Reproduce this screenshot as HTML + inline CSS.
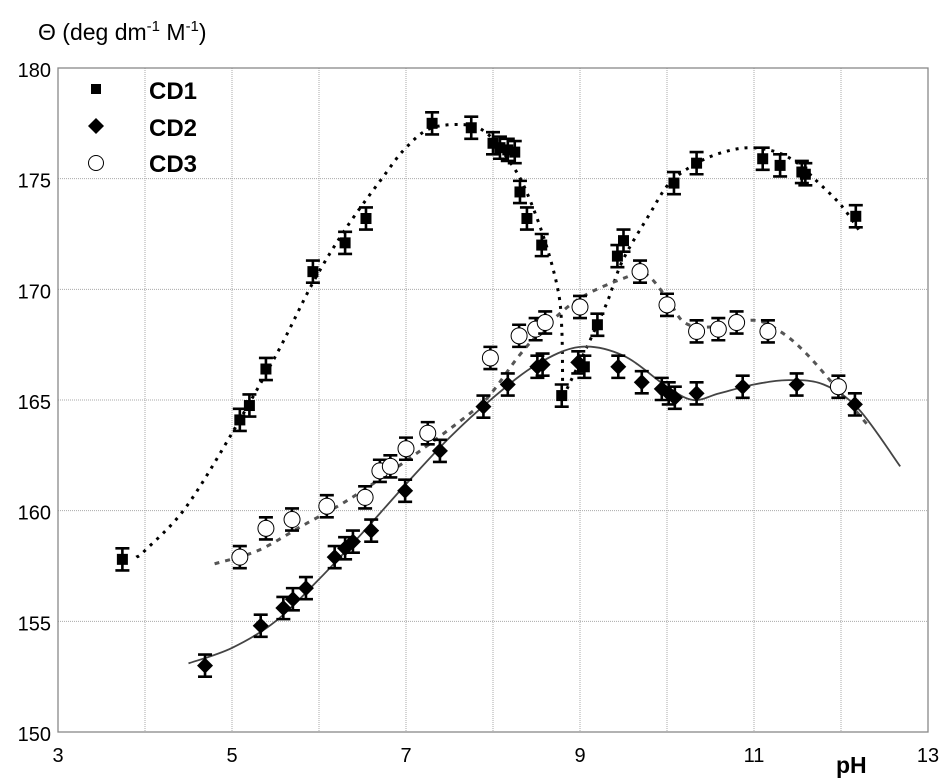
<!DOCTYPE html>
<html><head><meta charset="utf-8"><style>
body{margin:0;background:#fff;}
svg{display:block;font-family:"Liberation Sans",Arial,sans-serif;}
</style></head><body>
<svg id="chart" width="945" height="784" viewBox="0 0 945 784">
<text x="38" y="40" font-size="23">Θ (deg dm<tspan font-size="15" dy="-9">-1</tspan><tspan dy="9"> M</tspan><tspan font-size="15" dy="-9">-1</tspan><tspan dy="9">)</tspan></text>
<text x="836" y="773" font-size="23" font-weight="bold">pH</text>
<g id="grid"></g><g id="axes"></g><g id="fits"></g><g id="marks"></g>
<g>
<rect x="91" y="84" width="10" height="10" fill="#000"/>
<text x="149" y="99" font-size="24" font-weight="bold">CD1</text>
<path d="M96,118 L104,126 L96,134 L88,126Z" fill="#000"/>
<text x="149" y="136" font-size="24" font-weight="bold">CD2</text>
<circle cx="96" cy="163" r="7.5" fill="#fff" stroke="#000" stroke-width="1"/>
<text x="149" y="172" font-size="24" font-weight="bold">CD3</text>
</g>
</svg>
<script>
const xTicks=[3,5,7,9,11,13];
const yTicks=[150,155,160,165,170,175,180];
const cd1X=[3.74,5.09,5.20,5.39,5.93,6.30,6.54,7.30,7.75,8.00,8.08,8.17,8.25,8.31,8.39,8.56,8.79,9.05,9.20,9.43,9.50,10.08,10.34,11.10,11.30,11.55,11.59,12.17];
const cd1Y=[157.8,164.1,164.75,166.4,170.8,172.1,173.2,177.5,177.3,176.6,176.4,176.3,176.2,174.4,173.2,172.0,165.2,166.5,168.4,171.5,172.2,174.8,175.7,175.9,175.6,175.3,175.2,173.3];
const cd2X=[4.69,5.33,5.59,5.70,5.85,6.18,6.30,6.39,6.60,6.99,7.39,7.89,8.17,8.51,8.57,8.98,9.44,9.71,9.94,10.02,10.09,10.34,10.87,11.49,12.16];
const cd2Y=[153.0,154.8,155.6,156.0,156.5,157.9,158.3,158.6,159.1,160.9,162.7,164.7,165.7,166.5,166.6,166.7,166.5,165.8,165.5,165.3,165.1,165.3,165.6,165.7,164.8];
const cd3X=[5.09,5.39,5.69,6.09,6.53,6.70,6.82,7.00,7.25,7.97,8.30,8.49,8.60,9.00,9.69,10.00,10.34,10.59,10.80,11.16,11.97];
const cd3Y=[157.9,159.2,159.6,160.2,160.6,161.8,162.0,162.8,163.5,166.9,167.9,168.2,168.5,169.2,170.8,169.3,168.1,168.2,168.5,168.1,165.6];
const fit1aX=[3.9,4.0,4.46,5.0,5.53,5.93,6.3,6.74,7.0,7.3,7.75,8.0,8.15,8.34,8.57,8.74,8.79,8.8];
const fit1aY=[157.9,158.2,160.1,163.5,167.2,170.3,172.7,175.1,176.4,177.3,177.4,176.8,176.0,174.8,172.5,170.1,168.3,165.6];
const fit1bX=[8.85,9.08,9.31,9.49,9.80,10.03,10.34,10.65,10.95,11.26,11.5,11.72,12.0,12.22];
const fit1bY=[165.5,167.4,169.4,171.3,173.4,174.8,175.7,176.2,176.4,176.2,175.7,174.9,173.8,172.6];
const fit2X=[4.5,5.0,5.5,6.0,6.5,7.0,7.5,8.0,8.5,9.0,9.5,10.0,10.3,10.6,11.0,11.4,11.8,12.2,12.68];
const fit2Y=[153.1,153.8,155.0,156.9,159.0,161.2,163.3,165.1,166.6,167.4,167.0,165.6,165.0,165.3,165.7,165.9,165.7,164.6,162.0];
const fit3X=[4.8,5.3,5.8,6.3,6.8,7.3,7.8,8.0,8.3,8.6,9.0,9.5,9.75,10.0,10.2,10.5,11.0,11.3,11.6,12.0,12.3];
const fit3Y=[157.6,158.2,159.3,160.4,161.7,163.1,164.6,165.4,167.0,168.3,169.6,170.5,170.7,169.6,168.5,168.3,168.6,168.1,167.1,165.3,163.9];
const errBar=0.5;

const NS="http://www.w3.org/2000/svg";
const L=58,R=928,T=68,B=732;
const sx=v=>L+(v-3)*(R-L)/10;
const sy=v=>B-(v-150)*(B-T)/30;
function mk(tag,attrs,parent){const e=document.createElementNS(NS,tag);for(const k in attrs)e.setAttribute(k,attrs[k]);document.getElementById(parent).appendChild(e);return e;}

for(let v=4;v<13;v++){
 const g=mk('line',{x1:sx(v),x2:sx(v),y1:T,y2:B,stroke:'#aaa','stroke-width':1,'stroke-dasharray':'1,1'},'grid');
 
 
}
yTicks.slice(1,-1).forEach(v=>{
 const g=mk('line',{x1:L,x2:R,y1:sy(v),y2:sy(v),stroke:'#aaa','stroke-width':1,'stroke-dasharray':'1,1'},'grid');
 
 
});
const fr=mk('rect',{x:L,y:T,width:R-L,height:B-T,fill:'none',stroke:'#888','stroke-width':1.3},'axes');


xTicks.forEach(v=>{
 const t=mk('text',{x:sx(v),y:762,'font-size':20,'text-anchor':'middle'},'axes');t.textContent=v;
 
 
});
yTicks.forEach(v=>{
 const t=mk('text',{x:51,y:sy(v)+9,'font-size':20,'text-anchor':'end'},'axes');t.textContent=v;
 
 
});
function line(xs,ys,attrs,name){
 const P=xs.map((x,i)=>[sx(x),sy(ys[i])]);
 let d='M'+P[0][0].toFixed(1)+','+P[0][1].toFixed(1);
 for(let i=0;i<P.length-1;i++){
  const p0=P[Math.max(0,i-1)],p1=P[i],p2=P[i+1],p3=P[Math.min(P.length-1,i+2)];
  const c1=[p1[0]+(p2[0]-p0[0])/6,p1[1]+(p2[1]-p0[1])/6];
  const c2=[p2[0]-(p3[0]-p1[0])/6,p2[1]-(p3[1]-p1[1])/6];
  d+=` C${c1[0].toFixed(1)},${c1[1].toFixed(1)} ${c2[0].toFixed(1)},${c2[1].toFixed(1)} ${p2[0].toFixed(1)},${p2[1].toFixed(1)}`;
 }
 const p=mk('path',Object.assign({d:d,fill:'none'},attrs),'fits');
 
 
}
line(fit1aX,fit1aY,{stroke:'#000','stroke-width':3,'stroke-dasharray':'3,6'},'cd1-fit-line');
line(fit1bX,fit1bY,{stroke:'#000','stroke-width':3,'stroke-dasharray':'3,6'},'cd1-fit-line');
line(fit3X,fit3Y,{stroke:'#555','stroke-width':3,'stroke-dasharray':'5,6'},'cd3-fit-line');
line(fit2X,fit2Y,{stroke:'#444','stroke-width':1.8},'cd2-fit-line');

function err(x,y){
 const cx=sx(x),t=sy(y+errBar),b=sy(y-errBar);
 const e=mk('path',{d:`M${cx},${t}V${b}M${cx-7},${t}H${cx+7}M${cx-7},${b}H${cx+7}`,stroke:'#000','stroke-width':2.6,fill:'none'},'marks');
 
 
}
cd3X.forEach((x,i)=>{
 err(x,cd3Y[i]);
 const c=mk('circle',{cx:sx(x),cy:sy(cd3Y[i]),r:8,fill:'#fff',stroke:'#000','stroke-width':1},'marks');
 
 
});
cd2X.forEach((x,i)=>{
 err(x,cd2Y[i]);
 const cx=sx(x),cy=sy(cd2Y[i]);
 const d=mk('path',{d:`M${cx},${cy-8}L${cx+8},${cy}L${cx},${cy+8}L${cx-8},${cy}Z`,fill:'#000'},'marks');
 
 
});
cd1X.forEach((x,i)=>{
 err(x,cd1Y[i]);
 const s=mk('rect',{x:sx(x)-5.5,y:sy(cd1Y[i])-5.5,width:11,height:11,fill:'#000'},'marks');
 
 
});
</script>
</body></html>
